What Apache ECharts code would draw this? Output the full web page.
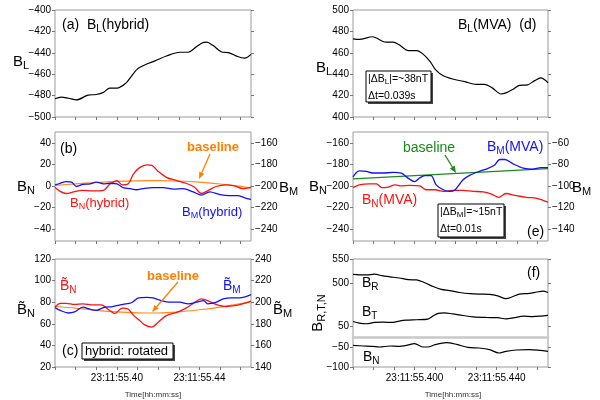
<!DOCTYPE html>
<html><head><meta charset="utf-8">
<script src="https://cdn.jsdelivr.net/npm/echarts@6/dist/echarts.min.js"></script>
<style>html,body{margin:0;padding:0;background:#fff}#c{width:600px;height:400px}</style>
</head><body><div id="c"></div>
<script>
// ---------- DATA (time in ms after 23:11:55) ----------
const timeTicks = [370,380,390,400,410,420,430,440,450,460];
const timeLabels = [400,440];
const timePrefix = '23:11:55.';

// (a) B_L hybrid
const aT  = [370,373,376.5,380.5,386,390,393.5,396.5,400,404,407,410,414.5,418.5,424,430.5,434.5,437.5,441,443.5,446.5,450.5,454.5,458.5,462,465];
const aBL = [-483,-481.5,-482.5,-484,-479.5,-479,-477,-473,-473,-469,-462,-455,-450.5,-447.5,-443,-439.5,-439.5,-436,-431,-430,-433,-439,-440,-443.5,-445,-441.5];
const aTicks = [-500,-480,-460,-440,-420,-400];

// (b) B_N, B_M hybrid + baseline
const bNT = [370,372.5,375.5,379,383,388.5,393.5,396.5,400,402.5,405.5,408,411,414.5,417,420,424,429,433.5,437.5,441,444,448,453,457,461,465];
const bBN = [-1.5,-5,-7,-5.5,-4,-4.5,-4,1.5,5,1,2,11,17,19.5,19,13.5,8,5,2.5,-1,-7,-4.5,-0.5,1,0,-2.5,-1];
const bMT = [370,372.5,375.5,378,380.5,383.5,387,390,393.5,396.5,400,403,406.5,409.5,412.5,417.5,422.5,427.5,432,437,441,445,450,454.5,458.5,462,465];
const bBM = [-199,-197.5,-196,-196.5,-200.5,-198.5,-198,-196.5,-198,-197.5,-198,-201.5,-202.5,-203.5,-202.5,-201.5,-201.5,-203,-202.5,-205.5,-208.5,-205.5,-208,-209,-209,-211,-212.5];
const bBaseT = [370,380,390,400,410,420,430,440,450,458,465];
const bBase  = [0.5,2,3.2,4.2,4.8,5,4.6,3.6,1.8,0,-2];
const bLeftTicks  = [-40,-20,0,20,40];
const bRightTicks = [-240,-220,-200,-180,-160];

// (c) rotated hybrid
const cNT = [370,372.5,375.5,379.5,383.5,388.5,392.5,396,399,402.5,405.5,408,410.5,413.5,417,420,424,429,433.5,437.5,441,444,448,453,458,461,465];
const cBN = [75.5,79,79,78,78.5,77.5,77.5,73,69.5,74.5,73.5,68,64,59,57,61.5,67.5,70.5,74.5,79.5,83,81.5,78,76,77,78.5,81];
const cMT = [370,372.5,376.5,379.5,383.5,387,390,393.5,398,403,407,410.5,414.5,417.5,421.5,425.5,430.5,434.5,438.5,442,444,447.5,451.5,455.5,459.5,465];
const cBM = [195,192.5,190,191,195.5,193.5,192.5,195,196,198,199.5,204,204.5,204,201.5,200,200,198.5,200,201.5,198.5,199.5,203,204,204,207];
const cBaseT = [370,380,390,400,410,420,430,440,450,458,465];
const cBase  = [76,74.5,72.5,71,70.2,70,71,73,75.5,78,80.5];
const cLeftTicks  = [20,40,60,80,100,120];
const cRightTicks = [140,160,180,200,220,240];

// (d) B_L MVA
const dT  = [370,373,379.5,386,389.5,392.5,397,401,404,407.5,410.5,414,418.5,424.5,430,434,438,442,444.5,448,451,455,458.5,461.5,465];
const dBL = [473,472.5,475,470,470,467.5,462,462,459,452,443.5,438.5,435.5,433,430.5,430.5,427,421.5,422.5,426,429.5,430,434,436.5,432];
const dTicks = [400,420,440,460,480,500];

// (e) B_N, B_M MVA + baseline
const eNT = [370,373,378,381.5,384,387,390.5,393.5,397.5,402.5,405.5,410,414,418.5,423.5,428.5,433.5,437.5,441,444.5,449.5,454.5,459.5,465];
const eBN = [-201.5,-199,-198,-198,-201.5,-201,-199,-200,-199.5,-200,-203.5,-203.5,-205,-204,-204,-205,-205.5,-207.5,-210.5,-207,-209,-210.5,-211.5,-215];
const eMT = [370,373,376.5,379.5,384.5,389.5,393.5,397,400,402.5,405,408,410.5,414,417,419.5,423.5,427,431.5,435.5,439,441.5,444,448,453,457.5,461.5,465];
const eBM = [-91.5,-86,-86.5,-88,-88,-87.5,-88,-93,-96,-92.5,-90.5,-90.5,-99,-103.5,-105,-104,-94.5,-90,-86.5,-84,-80.5,-75.5,-75.5,-79.5,-83.5,-84.5,-83,-83];
const eBaseT = [370,465];
const eBase  = [-193.5,-184];
const eLeftTicks  = [-240,-220,-200,-180,-160];
const eRightTicks = [-140,-120,-100,-80,-60];

// (f) B_R, B_T, B_N
const fRT = [370,373,376.5,380.5,384,388,392.5,397,401,405,409,413,417,422,427,431.5,436.5,440.5,444.5,448,451,456,459.5,462.5,465];
const fBR = [517.5,516.5,516.5,518,515,512.5,510,506.5,506,500,492,486,483.5,479.5,477,476,475.5,472.5,466.5,471,476,477.5,480.5,482.5,479.5];
const fTT = [370,373,376.5,380.5,384.5,389.5,392.5,396,401,406.5,409,411.5,414.5,418.5,423.5,428.5,435,440.5,444.5,448.5,453,457.5,461.5,465];
const fBT = [59.5,56,54.5,57.5,58,57.5,60.5,62.5,63.5,65,72,77.5,79,76.5,73,70,68.5,68,65.5,68,71.5,70.5,71.5,73];
const fNT = [370,375,379.5,383,388,392.5,396,400,404,406.5,410,415.5,420.5,426,431.5,436.5,441,444.5,449.5,456,461,465];
const fBN = [-46,-47.5,-48.5,-50,-47.5,-48.5,-46,-41.5,-50,-50,-44,-39,-43.5,-51,-52.5,-56.5,-65,-61,-57.5,-56.5,-58.5,-61];
const fRTicks = [500,550];
const fTTicks = [50];
const fNTicks = [-100,-50];

// ---------- STYLE / LAYOUT ----------
const FONT = '"Liberation Sans", Arial, sans-serif';
const RED = '#ff1010', BLUE = '#1010ff', ORANGE = '#ff8a1a', ORANGE_T = '#ff7f00', GREEN = '#1a8a1a', BLACK = '#000';
const COLL = {x:55, w:196}, COLR = {x:353, w:195};
const X_MIN = 370, X_MAX = 465;
const fmtNum = v => String(v).replace('-', '\u2212');

function grid(col, top, h, show) {
  return {left:col.x, top:top, width:col.w, height:h, show:show, borderColor:'#9a9a9a', borderWidth:1, backgroundColor:'transparent'};
}
function xAx(gi, labelFmt, extra) {
  const o = {type:'value', gridIndex:gi, position:'bottom', min:X_MIN, max:X_MAX, interval:10,
    axisLine:{show:false, onZero:false}, splitLine:{show:false},
    axisTick:{show:true, length:3, lineStyle:{color:'#777'}, customValues: timeTicks},
    axisLabel:{show:!!labelFmt, customValues: timeLabels, formatter: labelFmt || (()=>''), fontSize:10, color:'#000', margin:6, fontFamily:FONT}};
  return Object.assign(o, extra || {});
}
function yAx(gi, pos, min, max, vals, showLabels, tickVals) {
  return {type:'value', gridIndex:gi, position:pos, min:min, max:max,
    axisLine:{show:false, onZero:false}, splitLine:{show:false},
    axisTick:{show:true, length:3, lineStyle:{color:'#777'}, customValues: tickVals || vals},
    axisLabel:{show:showLabels, customValues: vals, formatter: fmtNum, fontSize:10, color:'#000', margin:4, fontFamily:FONT}};
}
const fmtL = v => timePrefix + (v/1000).toFixed(2).slice(2);
const fmtR = v => timePrefix + (v/1000).toFixed(3).slice(2);

function line(xi, yi, xs, ys, color, w) {
  return {type:'line', xAxisIndex:xi, yAxisIndex:yi, data: xs.map((x,i)=>[x, ys[i]]),
    symbol:'none', showSymbol:false, smooth:0.3, lineStyle:{color:color, width:w||1.2},
    itemStyle:{color:color}, animation:false, silent:true};
}

function rich(fs, color, bold) {
  const sfs = Math.round(fs*0.72);
  return {
    m:{fontSize:fs, fontFamily:FONT, fill:color, color:color, fontWeight: bold?'bold':'normal', lineHeight:fs},
    s:{fontSize:sfs, fontFamily:FONT, fill:color, color:color, fontWeight: bold?'bold':'normal', lineHeight:sfs, padding:[Math.round(fs*0.55),0,0,0]}
  };
}
function txt(x, y, str, fs, color, opts) {
  opts = opts || {};
  return {type:'text', x:x, y:y, z:100, rotation: opts.rot || 0,
    style:{text:str, rich:rich(fs, color, opts.bold), align: opts.align || 'left', verticalAlign:'middle',
      fontSize:fs, fontFamily:FONT, fill:color, fontWeight: opts.bold?'bold':'normal'}};
}
function arrow(x1, y1, x2, y2, color) {
  const a = Math.atan2(y2-y1, x2-x1), Lh = 7, W = 2.8;
  const bx = x2 - Lh*Math.cos(a), by = y2 - Lh*Math.sin(a);
  return [
    {type:'line', z:100, shape:{x1:x1, y1:y1, x2:bx, y2:by}, style:{stroke:color, lineWidth:1.3}},
    {type:'polygon', z:100, shape:{points:[[x2,y2],[bx+W*Math.sin(a), by-W*Math.cos(a)],[bx-W*Math.sin(a), by+W*Math.cos(a)]]}, style:{fill:color}}
  ];
}
function box(x, y, w, h) {
  return [
    {type:'rect', z:90, shape:{x:x+2, y:y+2, width:w, height:h}, style:{fill:'#444'}},
    {type:'rect', z:91, shape:{x:x, y:y, width:w, height:h}, style:{fill:'#fff', stroke:'#000', lineWidth:1}}
  ];
}

const grids = [
  grid(COLL, 10, 107, true),   // 0 a
  grid(COLL, 132, 109, true),  // 1 b
  grid(COLL, 259, 108, true),  // 2 c
  grid(COLR, 10, 107, true),   // 3 d
  grid(COLR, 132, 109, true),  // 4 e
  grid(COLR, 259, 47.5, false),  // 5 f1
  grid(COLR, 306.5, 30.5, false),// 6 f2
  grid(COLR, 337, 30, false),    // 7 f3
  grid(COLR, 259, 108, true)     // 8 f frame
];
const xAxes = [
  xAx(0), xAx(1), xAx(2, fmtL), xAx(3), xAx(4),
  xAx(5, null, {axisTick:{show:false}}),
  xAx(6, null, {axisTick:{show:false}, axisLine:{show:true, onZero:false, lineStyle:{color:'#c8c8c8', width:2.5}}}),
  xAx(7, fmtR),
  {type:'value', gridIndex:8, show:false, min:0, max:1}
];
const yAxes = [
  yAx(0,'left',-500,-400,aTicks,true),          // 0
  yAx(1,'left',-51,50,bLeftTicks,true),          // 1
  yAx(1,'right',-251,-150,bRightTicks,true),     // 2
  yAx(2,'left',20,120,cLeftTicks,true),          // 3
  yAx(2,'right',140,240,cRightTicks,true),       // 4
  yAx(3,'left',400,500,dTicks,true),             // 5
  yAx(4,'left',-251,-150,eLeftTicks,true),       // 6
  yAx(4,'right',-151,-50,eRightTicks,true),      // 7
  yAx(5,'left',450,550,fRTicks,true),            // 8
  yAx(6,'left',25,93,fTTicks,true),              // 9
  yAx(7,'left',-100,-25,fNTicks,true),           // 10
  {type:'value', gridIndex:8, show:false, min:0, max:1}, // 11
  yAx(0,'right',-500,-400,aTicks,false),         // 12
  yAx(3,'right',400,500,dTicks,false),           // 13
  yAx(5,'right',450,550,fRTicks,false),          // 14
  yAx(6,'right',25,93,fTTicks,false),            // 15
  yAx(7,'right',-100,-25,fNTicks,false)          // 16
];

const series = [
  line(0,0,aT,aBL,BLACK),
  line(1,1,bBaseT,bBase,ORANGE,1.2),
  line(1,1,bNT,bBN,RED,1.3),
  line(1,2,bMT,bBM,BLUE,1.3),
  line(2,3,cBaseT,cBase,ORANGE,1.2),
  line(2,3,cNT,cBN,RED,1.3),
  line(2,4,cMT,cBM,BLUE,1.3),
  line(3,5,dT,dBL,BLACK),
  line(4,6,eBaseT,eBase,GREEN,1.2),
  line(4,6,eNT,eBN,RED,1.3),
  line(4,7,eMT,eBM,BLUE,1.3),
  line(5,8,fRT,fBR,BLACK),
  line(6,9,fTT,fBT,BLACK),
  line(7,10,fNT,fBN,BLACK)
];

const TILDE_B = 'B\u0303';
const graphic = [].concat(
  // (a)
  [txt(62, 25, '{m|(a)  B}{s|L}{m|(hybrid)}', 14, BLACK)],
  [txt(13, 62, '{m|B}{s|L}', 15, BLACK)],
  // (b)
  [txt(60, 149, '{m|(b)}', 14, BLACK)],
  [txt(17, 187, '{m|B}{s|N}', 15, BLACK)],
  [txt(279, 188, '{m|B}{s|M}', 15, BLACK)],
  [txt(187, 147, '{m|baseline}', 13, ORANGE_T, {bold:true})],
  arrow(210, 154, 199, 179, ORANGE_T),
  [txt(70, 203, '{m|B}{s|N}{m|(hybrid)}', 13, RED)],
  [txt(182, 212, '{m|B}{s|M}{m|(hybrid)}', 13, BLUE)],
  // (c)
  [txt(17, 310, '{m|' + TILDE_B + '}{s|N}', 15, BLACK)],
  [txt(273, 310, '{m|' + TILDE_B + '}{s|M}', 15, BLACK)],
  [txt(60, 286, '{m|' + TILDE_B + '}{s|N}', 14, RED)],
  [txt(223, 286, '{m|' + TILDE_B + '}{s|M}', 14, BLUE)],
  [txt(147, 276, '{m|baseline}', 13, ORANGE_T, {bold:true})],
  arrow(178, 282, 152, 312, ORANGE_T),
  [txt(62, 351, '{m|(c)}', 14, BLACK)],
  box(82, 343, 91, 16),
  [txt(85, 351, '{m|hybrid: rotated}', 13, BLACK)],
  [txt(153, 395, 'Time[hh:mm:ss]', 8, '#333', {align:'center'})],
  // (d)
  [txt(458, 25, '{m|B}{s|L}{m|(MVA)  (d)}', 14, BLACK)],
  [txt(316, 68, '{m|B}{s|L}', 15, BLACK)],
  box(366, 71, 65, 31),
  [txt(368, 79, '{m||\u0394B}{s|L}{m||=~38nT}', 10.5, BLACK)],
  [txt(368, 96, '{m|\u0394t=0.039s}', 10.5, BLACK)],
  // (e)
  [txt(309, 187, '{m|B}{s|N}', 15, BLACK)],
  [txt(572, 188, '{m|B}{s|M}', 15, BLACK)],
  [txt(403, 148, '{m|baseline}', 14, GREEN)],
  arrow(445, 155, 456, 173, GREEN),
  [txt(487, 147, '{m|B}{s|M}{m|(MVA)}', 14, BLUE)],
  [txt(362, 200, '{m|B}{s|N}{m|(MVA)}', 14, RED)],
  box(438, 204, 66, 33),
  [txt(440, 212, '{m||\u0394B}{s|M}{m||=~15nT}', 10.5, BLACK)],
  [txt(440, 229, '{m|\u0394t=0.01s}', 10.5, BLACK)],
  [txt(527, 232, '{m|(e)}', 14, BLACK)],
  // (f)
  [txt(527, 273, '{m|(f)}', 14, BLACK)],
  [txt(362, 283, '{m|B}{s|R}', 14, BLACK)],
  [txt(362, 312, '{m|B}{s|T}', 14, BLACK)],
  [txt(363, 357, '{m|B}{s|N}', 14, BLACK)],
  [txt(318, 313, '{m|B}{s|R,T,N}', 15, BLACK, {align:'center', rot: Math.PI/2})],
  [txt(453, 395, 'Time[hh:mm:ss]', 8, '#333', {align:'center'})]
);

const chart = echarts.init(document.getElementById('c'), null, {renderer:'canvas'});
chart.setOption({
  animation:false,
  backgroundColor:'#fff',
  grid: grids, xAxis: xAxes, yAxis: yAxes, series: series, graphic: graphic
});
</script></body></html>
